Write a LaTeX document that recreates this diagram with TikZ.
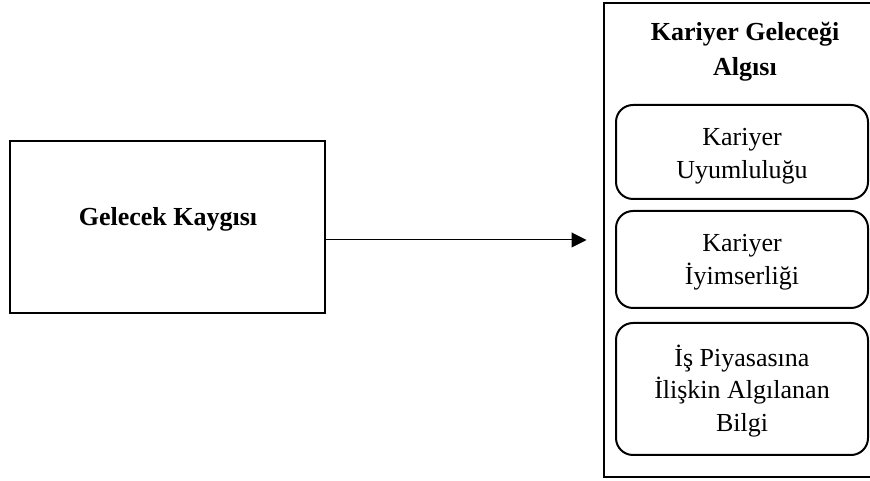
\documentclass[tikz,border=0pt]{standalone}
\usepackage{fontspec}
\setmainfont{Liberation Serif}
\usetikzlibrary{arrows.meta}
\begin{document}
\begin{tikzpicture}[x=1pt,y=1pt,
  sqbox/.style={draw, line width=2pt, rectangle, inner sep=0pt},
  rbox/.style={draw, line width=2pt, rectangle, rounded corners=17pt, inner sep=0pt, minimum width=252pt},
  txt/.style={inner sep=0pt, align=center, font=\fontsize{26}{32.5}\selectfont},
  btxt/.style={inner sep=0pt, align=center, font=\bfseries\fontsize{26}{35}\selectfont},
  conn/.style={line width=1pt, -{Triangle[length=15pt,width=15pt]}}]
\useasboundingbox (0,0) rectangle (870,481);
\node[sqbox, minimum width=315pt, minimum height=172pt] (left) at (167.5,254) {};
\node[btxt] (lefttxt) at (168,262) {Gelecek Kaygısı};
\node[sqbox, minimum width=270pt, minimum height=473.5pt] (outer) at (739,240.75) {};
\node[btxt] (title) at (745,429.5) {Kariyer Geleceği\\Algısı};
\node[rbox, minimum height=94pt] (b1) at (742,329) {};
\node[txt] (b1t) at (742,325) {Kariyer\\Uyumluluğu};
\node[rbox, minimum height=97pt] (b2) at (742,221.5) {};
\node[txt] (b2t) at (742,219) {Kariyer\\İyimserliği};
\node[rbox, minimum height=132pt] (b3) at (742,92) {};
\node[txt] (b3t) at (742,90) {İş Piyasasına\\İlişkin Algılanan\\Bilgi};
\coordinate (tip) at (586.5,241);
\draw[conn] (left.east |- tip) -- (tip);
\end{tikzpicture}
\end{document}
